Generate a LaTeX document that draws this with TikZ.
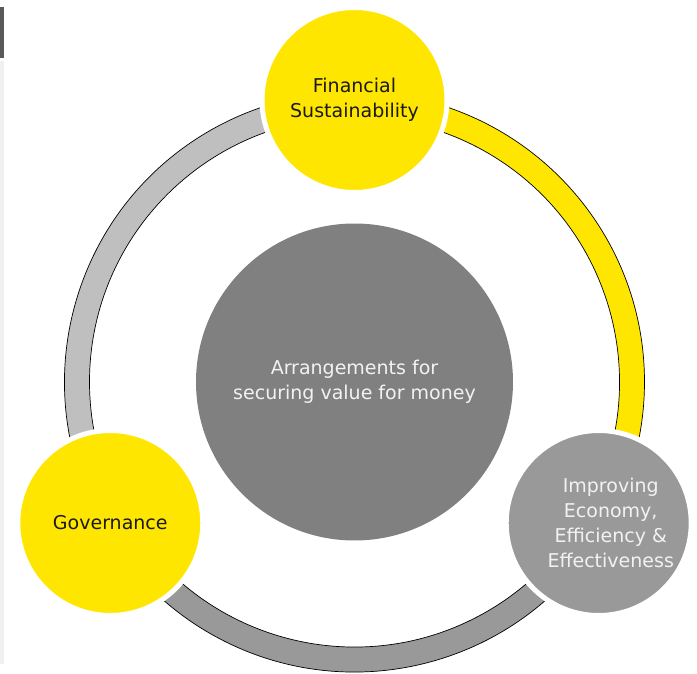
\documentclass[tikz,border=0pt]{standalone}
\usepackage{fontspec}
\setmainfont{DejaVu Sans}
\usetikzlibrary{positioning}
\definecolor{eyyellow}{HTML}{FFE600}
\definecolor{hubgrey}{HTML}{808080}
\definecolor{midgrey}{HTML}{999999}
\definecolor{palegrey}{HTML}{BFBFBF}
\definecolor{stripdark}{HTML}{595959}
\definecolor{stripfaint}{HTML}{F0F0F0}
\definecolor{textdark}{HTML}{1A1A1A}
\definecolor{textlight}{HTML}{F2F2F2}

\begin{document}
\begin{tikzpicture}[x=1pt, y=1pt,
        bubble/.style={circle, draw=white, line width=5pt, minimum size=185pt, inner sep=0pt,
            align=center, font=\fontsize{19}{25}\selectfont},
        hub/.style={circle, fill=hubgrey, minimum size=317pt, inner sep=0pt,
            align=center, text=textlight, font=\fontsize{19}{25}\selectfont},
        band/.style={draw=black, line width=0.7pt}]
    \useasboundingbox (-354.5,-291) rectangle (342.5,382);

    % side strips
    \fill[stripdark] (-354.5,375) rectangle (-350.5,324);
    \fill[stripfaint] (-354.5,321) rectangle (-350.5,-282);

    % ring segments
    \foreach \from/\to/\col in {90/-30/eyyellow, -30/-150/midgrey, 210/90/palegrey} {
            \draw[band, fill=\col] (\from:290) arc[start angle=\from, end angle=\to, radius=290]
                -- (\to:265) arc[start angle=\to, end angle=\from, radius=265] -- cycle;
        };

    \node[hub] (value) at (0,0) {Arrangements for\\securing value for money};
    \node[bubble, fill=eyyellow, text=textdark] (finance) at (90:282) {Financial\\Sustainability};
    \node[bubble, fill=eyyellow, text=textdark] (govern) at (210:282) {Governance};
    \node[bubble, fill=midgrey,
        label={[align=center, text=textlight, font=\fontsize{19}{25}\selectfont, xshift=12pt]center:Improving\\Economy,\\Efficiency \&\\Effectiveness}]
        (econ) at (-30:282) {};
\end{tikzpicture}
\end{document}
